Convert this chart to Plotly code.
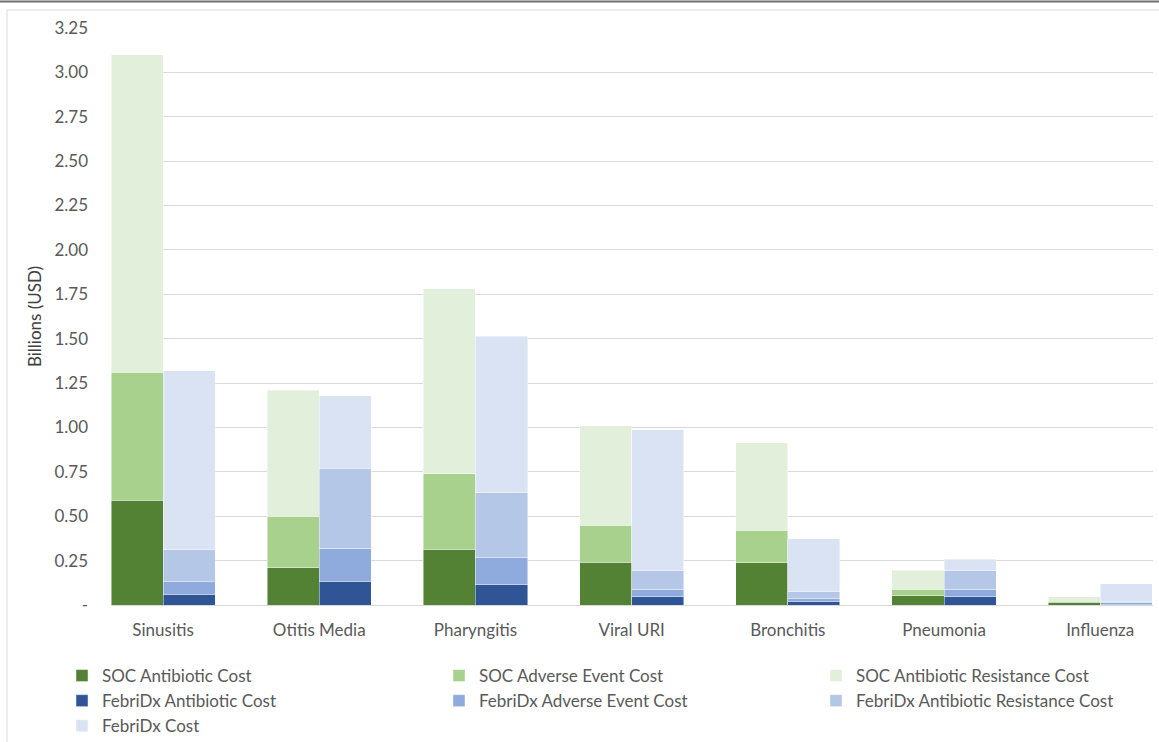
import plotly.graph_objects as go

categories = ["Sinusitis", "Otitis Media", "Pharyngitis", "Viral URI", "Bronchitis", "Pneumonia", "Influenza"]

# segment values (billions USD)
soc_antibiotic = [0.59, 0.21, 0.315, 0.242, 0.238, 0.051, 0.015]
soc_adverse = [0.72, 0.29, 0.425, 0.208, 0.182, 0.039, 0.007]
soc_resistance = [1.79, 0.71, 1.04, 0.56, 0.494, 0.107, 0.025]

febri_antibiotic = [0.06, 0.135, 0.113, 0.047, 0.022, 0.047, 0.005]
febri_adverse = [0.07, 0.185, 0.154, 0.041, 0.012, 0.043, 0.007]
febri_resistance = [0.18, 0.45, 0.366, 0.109, 0.041, 0.103, 0.010]
febri_cost = [1.01, 0.41, 0.882, 0.789, 0.297, 0.066, 0.098]

y_tickvals = [0, 0.25, 0.5, 0.75, 1.0, 1.25, 1.5, 1.75, 2.0, 2.25, 2.5, 2.75, 3.0, 3.25]
y_ticktext = ["-", "0.25", "0.50", "0.75", "1.00", "1.25", "1.50", "1.75", "2.00", "2.25", "2.50", "2.75", "3.00", "3.25"]

FONT = "Lato"
TXT = "#595959"
W, H = 1159, 742
PL, PR, PT, PB = 111, 1153, 28, 605   # plot area in pixels
BW = 1 / 3

idx = list(range(len(categories)))
soc_x = [i - BW / 2 for i in idx]
feb_x = [i + BW / 2 for i in idx]

series = [
    ("SOC Antibiotic Cost", soc_x, soc_antibiotic, "#548235"),
    ("SOC Adverse Event Cost", soc_x, soc_adverse, "#A9D18E"),
    ("SOC Antibiotic Resistance Cost", soc_x, soc_resistance, "#E2EFDA"),
    ("FebriDx Antibiotic Cost", feb_x, febri_antibiotic, "#2F5597"),
    ("FebriDx Adverse Event Cost", feb_x, febri_adverse, "#8FAADC"),
    ("FebriDx Antibiotic Resistance Cost", feb_x, febri_resistance, "#B4C7E7"),
    ("FebriDx Cost", feb_x, febri_cost, "#DAE3F3"),
]

fig = go.Figure()
for name, xs, ys, col in series:
    fig.add_trace(go.Bar(
        name=name, x=xs, y=ys, width=BW,
        marker=dict(color=col, line=dict(color="rgba(255,255,255,0.6)", width=0.75)),
    ))

def fx(p):
    return p / W

def fy(p):
    return 1 - p / H

fig.update_layout(
    width=W, height=H,
    margin=dict(l=0, r=0, t=0, b=0, pad=0, autoexpand=False),
    barmode="stack",
    plot_bgcolor="white", paper_bgcolor="white",
    font=dict(family=FONT, size=17, color=TXT),
    showlegend=True,
    legend=dict(
        orientation="h", x=fx(62), xanchor="left", y=fy(658), yanchor="top",
        entrywidth=332, entrywidthmode="pixels", traceorder="normal",
        font=dict(family=FONT, size=17, color=TXT), itemwidth=30,
        bgcolor="rgba(0,0,0,0)", tracegroupgap=0,
    ),
    xaxis=dict(
        domain=[fx(PL), fx(PR)],
        tickmode="array", tickvals=idx, ticktext=categories,
        range=[-BW, 6.338], showgrid=False, zeroline=False, showline=False,
        ticks="", ticklabelstandoff=13, tickfont=dict(size=17, color=TXT),
        fixedrange=True, automargin=False,
    ),
    yaxis=dict(
        domain=[fy(PB), fy(PT)],
        range=[0, 3.25], tickmode="array", tickvals=y_tickvals, ticktext=y_ticktext,
        showgrid=True, gridcolor="#D9D9D9", gridwidth=1, zeroline=True,
        zerolinecolor="#D9D9D9", zerolinewidth=1, showline=False, ticks="",
        ticklabelstandoff=22, tickfont=dict(size=17, color=TXT), automargin=False,
        title=dict(text="Billions (USD)", font=dict(size=17, color="#404040"), standoff=8),
    ),
    shapes=[
        dict(type="rect", xref="paper", yref="paper",
             x0=fx(7), x1=fx(W + 20), y0=fy(H + 20), y1=fy(10),
             line=dict(color="#D9D9D9", width=1), fillcolor="rgba(0,0,0,0)", layer="below"),
        dict(type="line", xref="paper", yref="paper",
             x0=0, x1=1, y0=fy(1.5), y1=fy(1.5),
             line=dict(color="#707070", width=2)),
    ],
)

fig.write_html("out.html")
